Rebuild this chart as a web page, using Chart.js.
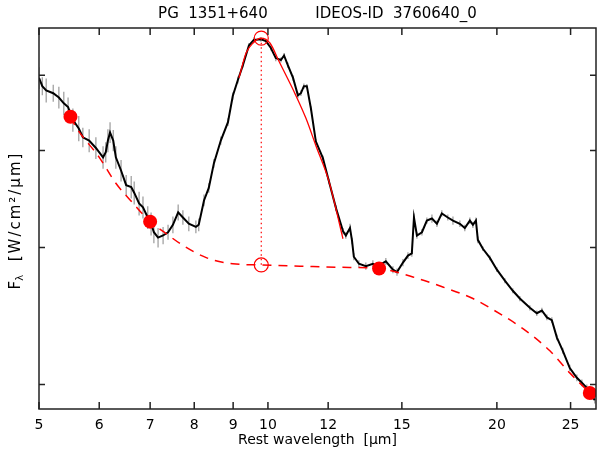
<!DOCTYPE html>
<html>
<head>
<meta charset="utf-8">
<script src="https://cdn.jsdelivr.net/npm/chart.js@4"></script>
<style>
body { margin: 0; background: #fff; }
</style>
</head>
<body>
<canvas id="canvas" width="597" height="454"></canvas>
<script>
// spectrum (rest wavelength in um, flux in arbitrary units)
const wave = [5.00,5.05,5.11,5.22,5.31,5.39,5.46,5.54,5.64,5.71,
  5.82,5.94,6.07,6.12,6.16,6.20,6.26,6.31,6.41,6.51,
  6.61,6.67,6.77,6.85,6.95,7.02,7.08,7.17,7.28,7.39,
  7.50,7.62,7.73,7.87,8.04,8.11,8.24,8.36,8.49,8.67,
  8.86,8.99,9.13,9.27,9.44,9.58,9.79,9.94,10.09,10.24,
  10.40,10.50,10.62,10.79,10.95,11.05,11.15,11.25,11.39,11.56,
  11.81,12.03,12.29,12.55,12.66,12.82,12.90,12.97,13.17,13.45,
  13.74,13.95,14.29,14.60,14.78,15.05,15.28,15.46,15.56,15.70,
  15.94,16.18,16.43,16.68,16.93,17.24,17.51,17.88,18.15,18.43,
  18.60,18.77,18.88,19.17,19.58,20.00,20.49,20.99,21.44,22.10,
  22.57,22.92,23.27,23.62,23.98,24.42,24.94,25.48,25.87,26.26,
  26.66,26.90];
const flux = [4.96,4.84,4.78,4.74,4.68,4.60,4.55,4.38,4.27,4.16,
  4.12,4.03,3.92,3.98,4.12,4.22,4.12,3.92,3.77,3.61,
  3.59,3.53,3.42,3.38,3.28,3.22,3.14,3.09,3.11,3.14,
  3.21,3.33,3.28,3.22,3.19,3.21,3.45,3.58,3.85,4.12,
  4.35,4.70,4.93,5.15,5.46,5.55,5.56,5.53,5.42,5.26,
  5.23,5.30,5.15,4.96,4.71,4.74,4.84,4.84,4.53,4.11,
  3.91,3.65,3.37,3.15,3.11,3.18,3.06,2.92,2.86,2.84,
  2.86,2.84,2.88,2.81,2.79,2.87,2.93,2.95,3.28,3.11,
  3.14,3.25,3.27,3.22,3.32,3.28,3.25,3.22,3.18,3.25,
  3.21,3.25,3.07,2.99,2.91,2.81,2.72,2.64,2.58,2.51,
  2.47,2.49,2.44,2.42,2.30,2.21,2.10,2.04,2.01,1.98,
  1.93,1.91];
const fluxErr = [0.16,0.13,0.17,0.12,0.15,0.16,0.13,0.15,0.16,0.12,
  0.14,0.13,0.13,0.12,0.14,0.13,0.13,0.13,0.12,0.11,
  0.12,0.12,0.12,0.11,0.11,0.11,0.10,0.09,0.08,0.07,
  0.08,0.08,0.07,0.07,0.06,0.06,0.06,0.05,0.05,0.05,
  0.05,0.05,0.05,0.04,0.04,0.04,0.04,0.04,0.04,0.05,
  0.04,0.04,0.04,0.04,0.04,0.04,0.04,0.03,0.03,0.03,
  0.03,0.03,0.03,0.03,0.03,0.04,0.03,0.03,0.03,0.03,
  0.03,0.03,0.03,0.03,0.03,0.03,0.03,0.03,0.04,0.03,
  0.03,0.03,0.04,0.03,0.03,0.03,0.04,0.03,0.03,0.03,
  0.03,0.03,0.03,0.02,0.02,0.02,0.02,0.02,0.02,0.02,
  0.02,0.02,0.02,0.02,0.02,0.02,0.02,0.02,0.02,0.02,
  0.02,0.02];

// silicate feature fit
const fitWave = [9.16,9.36,9.56,9.79,10.06,10.34,10.88,11.22,11.56,12.03,12.55];
const fitFlux = [4.96,5.34,5.50,5.58,5.50,5.21,4.71,4.40,4.06,3.65,3.08];

// continuum spline
const contWave = [5.50,5.59,6.00,6.31,6.65,7.00,7.34,7.73,8.31,8.99,9.80,11.02,12.43,14.00,15.51,16.98,18.60,19.58,21.64,23.48,24.94,26.50];
const contFlux = [4.42,4.29,3.92,3.63,3.42,3.24,3.13,3.02,2.91,2.86,2.85,2.84,2.83,2.82,2.75,2.67,2.58,2.51,2.36,2.21,2.07,1.95];

// continuum anchor points
const anchorWave = [5.5, 7.0, 14.0, 26.5];
const anchorFlux = [4.42, 3.24, 2.82, 1.95];

// peak and continuum at peak
const peakWave = [9.8, 9.8];
const peakFlux = [5.58, 2.85];

const xTicks = [5, 6, 7, 8, 9, 10, 12, 15, 20, 25];
const yTicks = [2, 3, 4, 5];

function pts(xs, ys) {
  return xs.map((v, i) => ({x: v, y: ys[i]}));
}

const idlFrame = {
  id: 'idlFrame',
  beforeDatasetsDraw(chart) {
    const {ctx, chartArea: a, scales: {x, y}} = chart;
    ctx.save();
    ctx.beginPath();
    ctx.rect(a.left, a.top, a.right - a.left, a.bottom - a.top);
    ctx.clip();
    ctx.strokeStyle = '#9a9a9a';
    ctx.lineWidth = 1.2;
    ctx.beginPath();
    for (let i = 0; i < wave.length; i++) {
      const px = x.getPixelForValue(wave[i]);
      ctx.moveTo(px, y.getPixelForValue(flux[i] - fluxErr[i]));
      ctx.lineTo(px, y.getPixelForValue(flux[i] + fluxErr[i]));
    }
    ctx.stroke();
    ctx.restore();
  },
  afterDraw(chart) {
    const {ctx, chartArea: a, scales: {x, y}} = chart;
    ctx.save();
    ctx.strokeStyle = '#222';
    ctx.lineWidth = 1.5;
    ctx.strokeRect(a.left, a.top, a.right - a.left, a.bottom - a.top);
    ctx.beginPath();
    for (const v of xTicks) {
      const px = x.getPixelForValue(v);
      ctx.moveTo(px, a.bottom); ctx.lineTo(px, a.bottom - 7);
      ctx.moveTo(px, a.top); ctx.lineTo(px, a.top + 7);
    }
    for (const v of yTicks) {
      const py = y.getPixelForValue(v);
      ctx.moveTo(a.left, py); ctx.lineTo(a.left + 6, py);
      ctx.moveTo(a.right, py); ctx.lineTo(a.right - 6, py);
    }
    ctx.stroke();

    // y axis title with subscript lambda
    ctx.translate(16, (a.top + a.bottom) / 2 + 2);
    ctx.rotate(-Math.PI / 2);
    ctx.fillStyle = '#000';
    ctx.textBaseline = 'middle';
    const big = '15px "DejaVu Sans"', small = '10px "DejaVu Sans"';
    const rest = '  [W/cm²/μm]';
    ctx.font = big;
    const wF = ctx.measureText('F').width;
    ctx.letterSpacing = '2px';
    const wR = ctx.measureText(rest).width;
    ctx.letterSpacing = '0px';
    ctx.font = small;
    const wL = ctx.measureText('λ').width;
    let tx = -(wF + wL + wR) / 2;
    ctx.font = big;
    ctx.fillText('F', tx, 0);
    tx += wF;
    ctx.font = small;
    ctx.fillText('λ', tx, 4);
    tx += wL;
    ctx.font = big;
    ctx.letterSpacing = '2px';
    ctx.fillText(rest, tx, 0);
    ctx.restore();
  }
};

const ctx = document.getElementById('canvas');
new Chart(ctx, {
  type: 'scatter',
  data: {
    datasets: [
      {
        data: pts(anchorWave, anchorFlux),
        pointRadius: 7,
        pointBackgroundColor: '#ff0000',
        pointBorderColor: '#ff0000',
        pointBorderWidth: 0
      },
      {
        data: pts(peakWave, peakFlux),
        showLine: true,
        borderColor: '#ff0000',
        borderWidth: 1.2,
        borderDash: [1.5, 3],
        pointRadius: 7,
        pointBackgroundColor: 'rgba(0,0,0,0)',
        pointBorderColor: '#ff0000',
        pointBorderWidth: 1.2
      },
      {
        data: pts(fitWave, fitFlux),
        showLine: true,
        borderColor: '#ff0000',
        borderWidth: 1.3,
        pointRadius: 0,
        cubicInterpolationMode: 'monotone'
      },
      {
        data: pts(contWave, contFlux),
        showLine: true,
        borderColor: '#ff0000',
        borderWidth: 1.5,
        borderDash: [9, 7],
        pointRadius: 0,
        cubicInterpolationMode: 'monotone'
      },
      {
        data: pts(wave, flux),
        showLine: true,
        borderColor: '#000',
        borderWidth: 2,
        pointRadius: 0
      }
    ]
  },
  options: {
    responsive: false,
    animation: false,
    layout: { autoPadding: false, padding: { left: 0, right: 1, top: 0, bottom: 0 } },
    plugins: {
      legend: { display: false },
      tooltip: { enabled: false },
      title: {
        display: true,
        fullSize: false,
        text: 'PG  1351+640          IDEOS-ID  3760640_0',
        color: '#000',
        font: { family: 'DejaVu Sans', size: 15, weight: 'normal', lineHeight: 1.2 },
        padding: { top: 5, bottom: 5 }
      }
    },
    scales: {
      x: {
        type: 'logarithmic',
        min: 5,
        max: 27,
        afterBuildTicks: s => { s.ticks = xTicks.map(v => ({value: v})); },
        afterFit: s => {
          s.height = 45;
          s.paddingLeft = 0;
          s.paddingRight = 0;
        },
        grid: { display: false, drawTicks: false },
        border: { display: false },
        ticks: {
          autoSkip: false,
          maxRotation: 0,
          padding: 8,
          color: '#000',
          font: { family: 'DejaVu Sans', size: 14 },
          callback: v => String(v)
        },
        title: {
          display: true,
          text: 'Rest wavelength  [μm]',
          color: '#000',
          font: { family: 'DejaVu Sans', size: 14, lineHeight: 1.2 },
          padding: { top: 0, bottom: 5 }
        }
      },
      y: {
        type: 'logarithmic',
        min: 1.86,
        max: 5.75,
        afterBuildTicks: s => { s.ticks = yTicks.map(v => ({value: v})); },
        afterFit: s => { s.width = 39; },
        grid: { display: false, drawTicks: false },
        border: { display: false },
        ticks: { display: false }
      }
    }
  },
  plugins: [idlFrame]
});
</script>
</body>
</html>
